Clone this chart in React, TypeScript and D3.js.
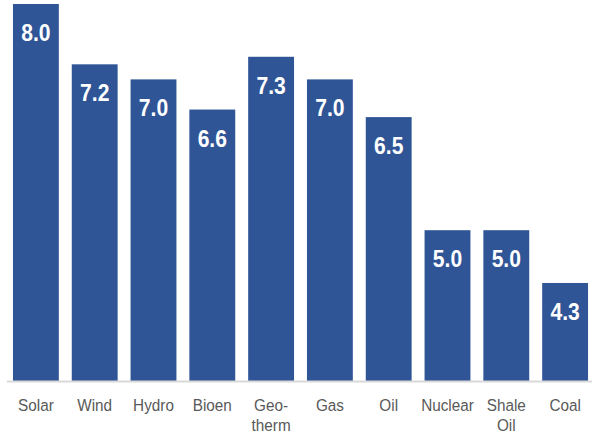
import React from "react";
import * as d3 from "d3";

// Source categories and their scores
const categories: string[][] = [
  ["Solar"],
  ["Wind"],
  ["Hydro"],
  ["Bioen"],
  ["Geo-", "therm"],
  ["Gas"],
  ["Oil"],
  ["Nuclear"],
  ["Shale", "Oil"],
  ["Coal"],
];
const scores: number[] = [8.0, 7.2, 7.0, 6.6, 7.3, 7.0, 6.5, 5.0, 5.0, 4.3];
const yDomain: [number, number] = [3, 8];

const W = 592;
const H = 434;
const baseline = 381;
const FONT = "'Liberation Sans', Arial, sans-serif";

export default function App() {
  const keys = categories.map((c) => c.join(" "));
  const x = d3
    .scaleBand<string>()
    .domain(keys)
    .range([6.5, 594.5])
    .paddingInner(0.22)
    .paddingOuter(0.11);
  const y = d3.scaleLinear().domain(yDomain).range([baseline, 4]);

  return (
    <svg
      width={W}
      height={H}
      style={{ position: "absolute", left: 0, top: 0, background: "#fff" }}
    >
      {scores.map((v, i) => {
        const k = keys[i];
        const x0 = x(k)!;
        const bw = x.bandwidth();
        const top = y(v);
        return (
          <g key={k}>
            <rect x={x0} y={top} width={bw} height={baseline - top} fill="#2F5597" />
            <g transform={`translate(${x0 + bw / 2},${top + 37}) scale(0.88,1)`}>
              <text
                x={0}
                y={0}
                textAnchor="middle"
                fill="#fff"
                fontFamily={FONT}
                fontWeight="bold"
                fontSize={24}
              >
                {d3.format(".1f")(v)}
              </text>
            </g>
          </g>
        );
      })}
      <line x1={7} x2={W} y1={baseline + 0.5} y2={baseline + 0.5} stroke="#d9d9d9" strokeWidth={2} />
      {categories.map((lines, i) => {
        const k = keys[i];
        const cx = x(k)! + x.bandwidth() / 2;
        return (
          <g key={k} transform={`translate(${cx},0) scale(0.9,1)`}>
            <text textAnchor="middle" fill="#595959" fontFamily={FONT} fontSize={17}>
              {lines.map((ln, j) => (
                <tspan key={j} x={0} y={411 + j * 20}>
                  {ln}
                </tspan>
              ))}
            </text>
          </g>
        );
      })}
    </svg>
  );
}
